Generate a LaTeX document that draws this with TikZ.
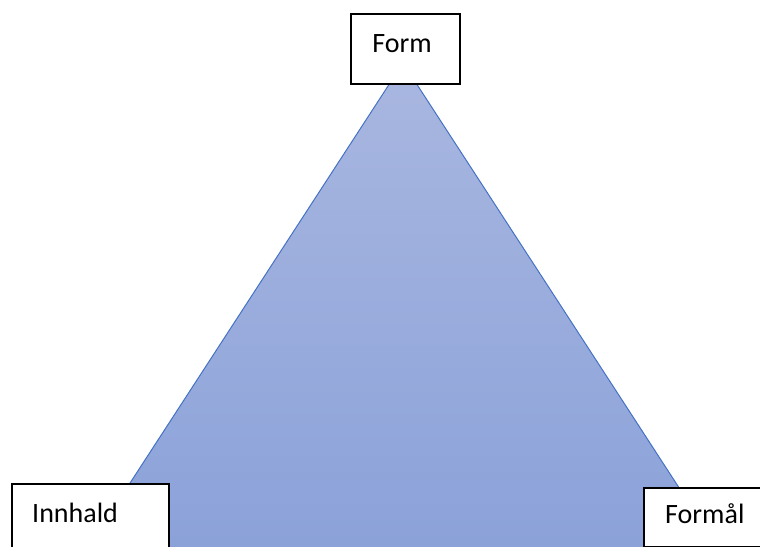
\documentclass[tikz,border=0pt]{standalone}
\usepackage{fontspec}
\setmainfont{Carlito}
\definecolor{lysblaa}{HTML}{A9B7E0}
\definecolor{morkblaa}{HTML}{8AA1D9}
\definecolor{kantblaa}{HTML}{4472C4}
\begin{document}
\begin{tikzpicture}[x=1pt,y=-1pt]
	\tikzstyle{every node}=[font=\fontsize{28}{34}\selectfont]
	\tikzstyle{boks}=[draw=black, fill=white, line width=1.5pt, inner sep=0pt, anchor=north west]
	\useasboundingbox (0,0) rectangle (760,546);
	\clip (0,0) rectangle (760,546);
	
	%Trekant med fargeovergang
	\coordinate (topp) at (403,63);
	\coordinate (venstre) at (80,560);
	\coordinate (hogre) at (726,560);
	\shade[top color=lysblaa, bottom color=morkblaa] (topp) -- (venstre) -- (hogre) -- cycle;
	\draw[kantblaa, line width=1pt] (venstre) -- (topp) -- (hogre);
	
	%Boksar
	\node[boks, minimum width=109pt, minimum height=70pt] (formboks) at (350,13) {};
	\node[boks, minimum width=157pt, minimum height=70pt] (innhaldboks) at (11,483) {};
	\node[boks, minimum width=130pt, minimum height=59pt] (formaalboks) at (643,487) {};
	
	%Tekst
	\node[anchor=base] (form) at (402,52) {Form};
	\node[anchor=base west, inner sep=0pt] (innhald) at (32,522) {Innhald};
	\node[anchor=base west, inner sep=0pt] (formaal) at (665,523) {Formål};
\end{tikzpicture}
\end{document}
